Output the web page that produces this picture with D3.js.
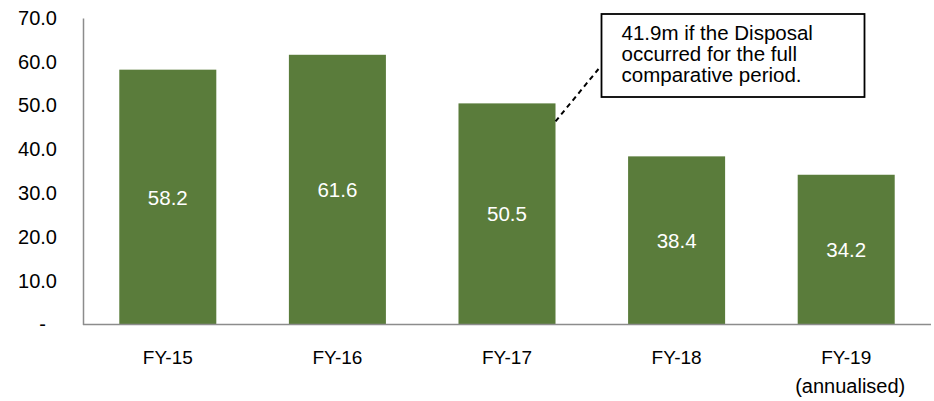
<!DOCTYPE html>
<html>
<head>
<meta charset="utf-8">
<script src="https://cdn.jsdelivr.net/npm/d3@7"></script>
<style>
  body { margin: 0; background: #fff; }
  svg { display: block; font-family: "Liberation Sans", Arial, sans-serif; }
</style>
</head>
<body>
<svg class="Chart"></svg>
<script>
// chart values
var categories = ["FY-15", "FY-16", "FY-17", "FY-18", "FY-19"];
var values = [58.2, 61.6, 50.5, 38.4, 34.2];
var yTicks = [0, 10, 20, 30, 40, 50, 60, 70];
var subLabels = {"FY-19": "(annualised)"};
var noteLines = ["41.9m if the Disposal", "occurred for the full", "comparative period."];
var noteFor = "FY-17";

function drawChart(){
    let width = 934, height = 401;
    let margin = {top: 18, right: 3, bottom: 76.5, left: 83};
    let svg = d3.select(".Chart")
        .attr("width", width)
        .attr("height", height);

    let x = d3.scaleBand()
        .domain(categories)
        .range([margin.left, width - margin.right])
        .paddingInner(0.428)
        .paddingOuter(0.214);
    let y = d3.scaleLinear()
        .domain([0, 70])
        .range([height - margin.bottom, margin.top]);

    // bars
    svg.append("g")
        .selectAll("rect")
        .data(values)
        .join("rect")
        .attr("x", (d, i) => x(categories[i]))
        .attr("y", d => y(d))
        .attr("width", x.bandwidth())
        .attr("height", d => y(0) - y(d))
        .attr("fill", "#5a7c3b");

    // value labels in the middle of each bar
    svg.append("g")
        .selectAll("text")
        .data(values)
        .join("text")
        .attr("x", (d, i) => x(categories[i]) + x.bandwidth() / 2)
        .attr("y", d => (y(d) + y(0)) / 2)
        .attr("text-anchor", "middle")
        .attr("dominant-baseline", "central")
        .attr("font-size", 20.5)
        .attr("fill", "#fff")
        .text(d => d.toFixed(1));

    // y axis
    let yAxis = svg.append("g")
        .attr("transform", `translate(${margin.left},0)`)
        .call(d3.axisLeft(y).tickValues(yTicks).tickSize(0).tickPadding(26)
            .tickFormat(d => d === 0 ? "-" : d.toFixed(1)));
    yAxis.select(".domain")
        .attr("stroke", "#8c8c8c")
        .attr("stroke-width", 1.5);
    yAxis.selectAll("text")
        .attr("font-family", null)
        .attr("font-size", 20)
        .attr("fill", "#000")
        .attr("dx", d => d === 0 ? -11 : 0);

    // baseline
    svg.append("line")
        .attr("x1", margin.left)
        .attr("x2", width - margin.right)
        .attr("y1", y(0))
        .attr("y2", y(0))
        .attr("stroke", "#8c8c8c")
        .attr("stroke-width", 1.5);

    // category labels
    let xl = svg.append("g")
        .selectAll("g")
        .data(categories)
        .join("g")
        .attr("transform", d => `translate(${x(d) + x.bandwidth() / 2},0)`);
    xl.append("text")
        .attr("y", y(0) + 39.5)
        .attr("text-anchor", "middle")
        .attr("font-size", 19)
        .text(d => d);
    xl.filter(d => subLabels[d])
        .append("text")
        .attr("x", 4)
        .attr("y", y(0) + 68.5)
        .attr("text-anchor", "middle")
        .attr("font-size", 20)
        .text(d => subLabels[d]);

    // annotation box
    let box = {x: 601.5, y: 14, w: 263, h: 83};
    let note = svg.append("g");
    note.append("rect")
        .attr("x", box.x)
        .attr("y", box.y)
        .attr("width", box.w)
        .attr("height", box.h)
        .attr("fill", "#fff")
        .attr("stroke", "#000")
        .attr("stroke-width", 1.8);
    note.append("text")
        .attr("font-size", 20.5)
        .selectAll("tspan")
        .data(noteLines)
        .join("tspan")
        .attr("x", box.x + 20)
        .attr("y", (d, i) => box.y + 26 + i * 20.8)
        .text(d => d);

    // dashed leader from the FY-17 bar to the box
    let i17 = categories.indexOf(noteFor);
    note.append("line")
        .attr("x1", x(noteFor) + x.bandwidth())
        .attr("y1", y(values[i17]) + 18)
        .attr("x2", box.x - 3)
        .attr("y2", 69)
        .attr("stroke", "#000")
        .attr("stroke-width", 2)
        .attr("stroke-dasharray", "5,4");
}

drawChart();
</script>
</body>
</html>
